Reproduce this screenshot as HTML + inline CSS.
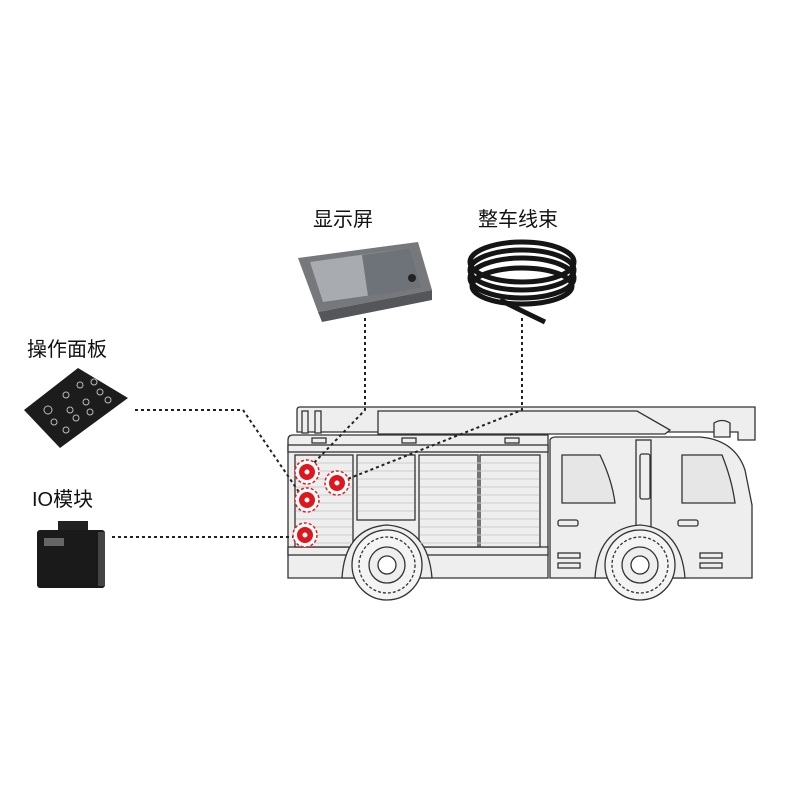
<!DOCTYPE html>
<html><head><meta charset="utf-8"><style>
html,body{margin:0;padding:0;background:#fff;}
svg text{font-family:"Liberation Sans","Noto Sans CJK SC",sans-serif;fill:#111;}
</style></head><body>
<svg width="800" height="800" viewBox="0 0 800 800" xmlns="http://www.w3.org/2000/svg">
<rect width="800" height="800" fill="#fff"/>
<text x="343" y="226" font-size="20" text-anchor="middle">显示屏</text>
<text x="518" y="226" font-size="20" text-anchor="middle">整车线束</text>
<text x="27" y="356" font-size="20">操作面板</text>
<text x="32" y="506" font-size="20">IO模块</text>

<!-- display device -->
<polygon points="298,258 418,242 432,290 318,312" fill="#77787c"/>
<polygon points="318,312 432,290 432,300 322,322" fill="#55565a"/>
<polygon points="310,262 410,248 422,288 323,302" fill="#a8acb0"/>
<polygon points="362,255 410,248 422,288 368,296" fill="#6d7378"/>
<circle cx="412" cy="278" r="4" fill="#222"/>

<!-- harness coil -->
<g fill="none" stroke="#151515" stroke-width="5">
<ellipse cx="522" cy="262" rx="52" ry="20"/>
<ellipse cx="522" cy="270" rx="52" ry="20"/>
<ellipse cx="522" cy="278" rx="52" ry="20"/>
<ellipse cx="522" cy="286" rx="50" ry="18"/>
<path d="M500 300 Q520 310 545 322"/>
</g>

<!-- operating panel -->
<polygon points="24,410 78,368 128,398 60,448" fill="#1c1c1c"/>
<g fill="none" stroke="#bbb" stroke-width="1">
<circle cx="48" cy="410" r="4"/><circle cx="66" cy="395" r="3"/><circle cx="80" cy="385" r="3"/>
<circle cx="94" cy="382" r="3"/><circle cx="100" cy="392" r="3"/><circle cx="70" cy="410" r="3"/>
<circle cx="86" cy="402" r="3"/><circle cx="108" cy="400" r="3"/><circle cx="54" cy="422" r="3"/>
<circle cx="76" cy="418" r="3"/><circle cx="90" cy="412" r="3"/><circle cx="66" cy="430" r="3"/>
</g>

<!-- IO module -->
<rect x="58" y="521" width="30" height="9" fill="#222"/>
<rect x="37" y="530" width="68" height="58" rx="3" fill="#1a1a1a"/>
<rect x="98" y="532" width="7" height="54" fill="#444"/>
<rect x="44" y="538" width="20" height="8" fill="#666"/>

<!-- fire truck -->
<g stroke="#333" stroke-width="1.3" fill="#eeeeee">
<path d="M297 432 L297 410 Q297 407 300 407 L755 407 L755 440 L738 440 L738 432 Z"/>
<rect x="302" y="411" width="6" height="22"/><rect x="315" y="411" width="6" height="22"/>
<path d="M378 411 L637 411 L670 430 L665 434 L378 434 Z"/>
<path d="M714 423 Q722 418 730 423 L730 437 L714 437 Z"/>
<path d="M288 578 L288 440 Q288 435 293 435 L548 435 L548 578 Z"/>
<rect x="288" y="445" width="260" height="7"/>
<rect x="288" y="547" width="260" height="8"/>
<rect x="295" y="455" width="58" height="92"/>
<rect x="357" y="455" width="58" height="65"/>
<rect x="419" y="455" width="59" height="92"/>
<rect x="480" y="455" width="60" height="92"/>
<rect x="312" y="438" width="14" height="5"/><rect x="402" y="438" width="14" height="5"/><rect x="505" y="438" width="14" height="5"/>
<path d="M550 578 L550 440 Q551 437 556 437 L700 437 Q735 440 745 470 L752 505 L752 578 Z"/>
<rect x="636" y="440" width="15" height="110"/>
<path d="M562 455 L600 455 Q612 480 615 503 L562 503 Z" fill="#e6e6e6"/>
<path d="M682 455 L722 455 Q732 480 735 503 L682 503 Z" fill="#e6e6e6"/>
<rect x="640" y="454" width="10" height="45" rx="2"/>
<rect x="558" y="520" width="20" height="6" rx="2"/><rect x="678" y="520" width="20" height="6" rx="2"/>
<rect x="558" y="553" width="22" height="5"/><rect x="558" y="563" width="22" height="5"/>
<rect x="700" y="553" width="22" height="5"/><rect x="700" y="563" width="22" height="5"/>
<path d="M342 578 Q345 528 387 525 Q428 528 432 578 Z" fill="#eeeeee"/>
<path d="M595 578 Q598 528 640 525 Q681 528 685 578 Z" fill="#eeeeee"/>
</g>
<g stroke="#ccc" stroke-width="1">
<path d="M296 463H352M296 471H352M296 479H352M296 487H352M296 495H352M296 503H352M296 511H352M296 519H352M296 527H352M296 535H352M296 543H352"/>
<path d="M358 463H414M358 471H414M358 479H414M358 487H414M358 495H414M358 503H414M358 511H414"/>
<path d="M420 463H539M420 471H539M420 479H539M420 487H539M420 495H539M420 503H539M420 511H539M420 519H539M420 527H539M420 535H539M420 543H539"/>
</g>
<g stroke="#333" stroke-width="1.3">
<circle cx="387" cy="565" r="35" fill="#f4f4f4"/>
<circle cx="387" cy="565" r="28" fill="none" stroke-dasharray="3,2"/>
<circle cx="387" cy="565" r="18" fill="#eee"/>
<circle cx="387" cy="565" r="9" fill="#fff"/>
<circle cx="640" cy="565" r="35" fill="#f4f4f4"/>
<circle cx="640" cy="565" r="28" fill="none" stroke-dasharray="3,2"/>
<circle cx="640" cy="565" r="18" fill="#eee"/>
<circle cx="640" cy="565" r="9" fill="#fff"/>
</g>

<!-- dotted connectors (on top) -->
<g fill="none" stroke="#222" stroke-width="2" stroke-dasharray="3,3">
<path d="M135 410 L243 410 L303 498"/>
<path d="M112 537 L296 537"/>
<path d="M365 318 L365 410 L310 467"/>
<path d="M522 318 L522 410 L345 480"/>
</g>

<!-- red markers -->
<g>
<circle cx="307" cy="472" r="12" fill="#fff" stroke="#e02020" stroke-width="1.5" stroke-dasharray="3,2"/>
<circle cx="307" cy="472" r="8" fill="#e0161e"/><circle cx="307" cy="472" r="2.5" fill="#fff"/>
<circle cx="337" cy="483" r="12" fill="#fff" stroke="#e02020" stroke-width="1.5" stroke-dasharray="3,2"/>
<circle cx="337" cy="483" r="8" fill="#e0161e"/><circle cx="337" cy="483" r="2.5" fill="#fff"/>
<circle cx="307" cy="500" r="12" fill="#fff" stroke="#e02020" stroke-width="1.5" stroke-dasharray="3,2"/>
<circle cx="307" cy="500" r="8" fill="#e0161e"/><circle cx="307" cy="500" r="2.5" fill="#fff"/>
<circle cx="305" cy="535" r="12" fill="#fff" stroke="#e02020" stroke-width="1.5" stroke-dasharray="3,2"/>
<circle cx="305" cy="535" r="8" fill="#e0161e"/><circle cx="305" cy="535" r="2.5" fill="#fff"/>
</g>
</svg>
</body></html>
